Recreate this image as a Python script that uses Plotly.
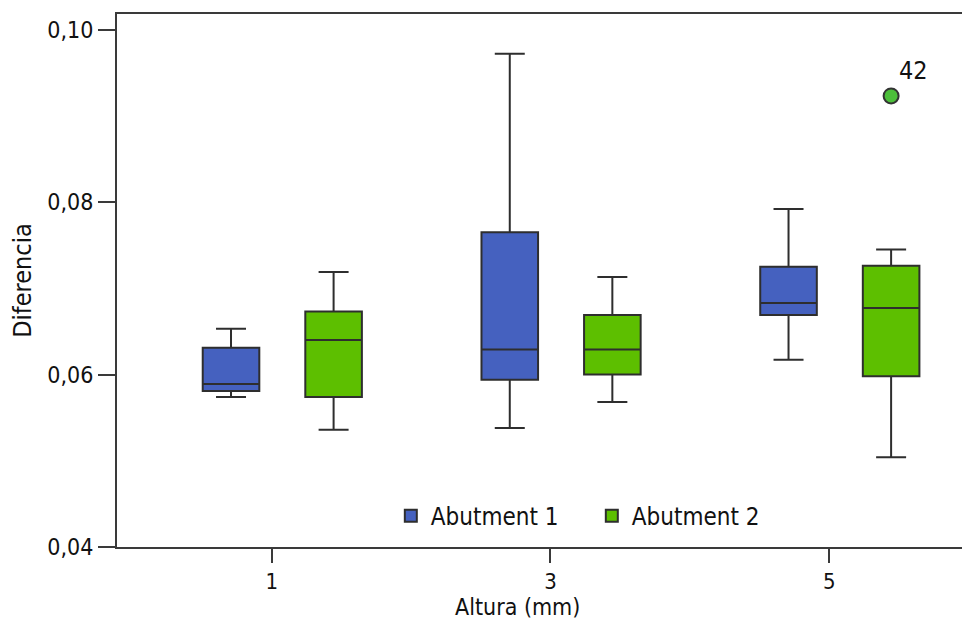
import plotly.graph_objects as go

categories = ["1", "3", "5"]
series_names = ["Abutment 1", "Abutment 2"]

a1_low = [0.0574, 0.0538, 0.0617]
a1_q1 = [0.0581, 0.0594, 0.0669]
a1_med = [0.0589, 0.0629, 0.0683]
a1_q3 = [0.0631, 0.0765, 0.0725]
a1_high = [0.0653, 0.0972, 0.0792]

a2_low = [0.0536, 0.0568, 0.0504]
a2_q1 = [0.0574, 0.0600, 0.0598]
a2_med = [0.0640, 0.0629, 0.0677]
a2_q3 = [0.0673, 0.0669, 0.0726]
a2_high = [0.0719, 0.0713, 0.0745]

y_ticks = [0.04, 0.06, 0.08, 0.10]
y_top = 0.1018

outlier_cat = ["5"]
outlier_val = [0.0923]
outlier_label = ["42"]

FONT = "DejaVu Sans Condensed, DejaVu Sans, sans-serif"
BLUE = "#4561BF"
GREEN = "#5DBF00"
LINE = "#2e2e2e"
AX = "#3a3a3a"
TXT = "#111111"

idx = {c: i for i, c in enumerate(categories)}
off1, off2, bw = -0.146, 0.222, 0.203

fig = go.Figure()
fig.add_trace(go.Box(
    name=series_names[0], x=[idx[c] + off1 for c in categories],
    q1=a1_q1, median=a1_med, q3=a1_q3, lowerfence=a1_low, upperfence=a1_high,
    width=bw, whiskerwidth=0.53, fillcolor=BLUE, line=dict(color=LINE, width=2),
    boxpoints=False, hoverinfo="y"))
fig.add_trace(go.Box(
    name=series_names[1], x=[idx[c] + off2 for c in categories],
    q1=a2_q1, median=a2_med, q3=a2_q3, lowerfence=a2_low, upperfence=a2_high,
    width=bw, whiskerwidth=0.53, fillcolor=GREEN, line=dict(color=LINE, width=2),
    boxpoints=False, hoverinfo="y"))
fig.add_trace(go.Scatter(
    x=[idx[c] + off2 for c in outlier_cat], y=outlier_val, mode="markers",
    marker=dict(size=15, color="#4CBF3A", line=dict(color="#333333", width=2)),
    showlegend=False, hoverinfo="y"))
for c, v, t in zip(outlier_cat, outlier_val, outlier_label):
    fig.add_annotation(x=idx[c] + off2, y=v, text=t, showarrow=False,
                       xanchor="left", yanchor="middle", xshift=6, yshift=25,
                       font=dict(family=FONT, size=25, color=TXT))

# x-axis title as an annotation (placed under the axis, left of plot centre as in the source)
fig.add_annotation(x=0.470, y=-0.1126, xref="paper", yref="paper", text="Altura (mm)",
                   showarrow=False, xanchor="center", yanchor="middle",
                   font=dict(family=FONT, size=23, color=TXT))

fig.update_layout(
    width=962, height=611,
    margin=dict(l=109, r=0, t=6, b=72, autoexpand=False),
    plot_bgcolor="white", paper_bgcolor="white",
    separators=",.",
    boxmode="overlay",
    showlegend=True,
    legend=dict(orientation="h", x=0.321, y=0.058, xanchor="left", yanchor="middle",
                font=dict(family=FONT, size=24, color=TXT),
                bgcolor="rgba(0,0,0,0)", entrywidth=156, entrywidthmode="pixels"),
    font=dict(family=FONT, color=TXT),
)
fig.update_xaxes(
    range=[-0.555, 2.505], tickvals=list(range(len(categories))), ticktext=categories,
    showline=True, linecolor=AX, linewidth=2, mirror=True, automargin=False,
    ticks="outside", ticklen=14, tickwidth=2, tickcolor=AX,
    showgrid=False, zeroline=False,
    tickfont=dict(family=FONT, size=22, color=TXT),
)
fig.update_yaxes(
    range=[y_ticks[0] - 1e-9, y_top], tickvals=y_ticks, tickformat=".2f",
    showline=True, linecolor=AX, linewidth=2, automargin=False,
    ticks="outside", ticklen=17, tickwidth=2, tickcolor=AX,
    showgrid=False, zeroline=False,
    tickfont=dict(family=FONT, size=23, color=TXT),
    title=dict(text="Diferencia", font=dict(family=FONT, size=25, color=TXT), standoff=14),
)

fig.write_html("out.html")
